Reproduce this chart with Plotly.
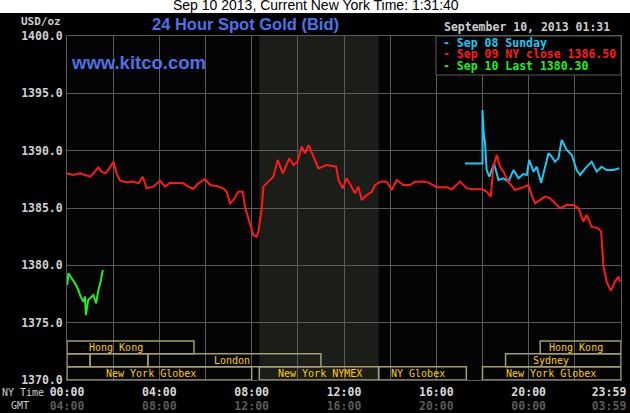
import plotly.graph_objects as go

# ---------------- data (hours after NY midnight, USD/oz) ----------------
sep08_hours = [17.24, 18.00, 18.00, 18.05, 18.11, 18.18, 18.30, 18.40, 18.50, 18.69, 18.91, 19.12,
               19.34, 19.56, 19.77, 19.92, 20.02, 20.21, 20.35, 20.54, 20.71, 20.86, 21.00, 21.14,
               21.29, 21.43, 21.65, 21.87, 22.08, 22.23, 22.45, 22.73, 22.95, 23.16, 23.38, 23.67, 23.93]
sep08_price = [1388.89, 1388.89, 1393.55, 1391.51, 1390.64, 1388.31, 1387.73, 1388.31, 1388.89, 1387.44,
               1387.59, 1387.30, 1388.31, 1387.59, 1387.96, 1387.88, 1389.19, 1388.17, 1388.60, 1387.21,
               1388.60, 1389.77, 1389.48, 1389.04, 1389.33, 1390.93, 1390.06, 1389.62, 1388.31, 1387.88,
               1388.46, 1389.04, 1388.17, 1388.60, 1388.31, 1388.31, 1388.46]

sep09_hours = [0.00, 0.27, 0.56, 0.78, 1.00, 1.14, 1.36, 1.50, 1.65, 1.79, 2.01, 2.15, 2.30, 2.59, 2.87,
               3.09, 3.28, 3.45, 3.74, 4.03, 4.25, 4.46, 4.75, 5.04, 5.26, 5.47, 5.69, 5.98, 6.20, 6.48,
               6.77, 6.92, 7.06, 7.21, 7.42, 7.61, 7.71, 7.93, 8.07, 8.22, 8.29, 8.43, 8.51, 8.72, 8.94,
               9.13, 9.35, 9.63, 9.81, 9.98, 10.17, 10.31, 10.46, 10.65, 10.89, 11.25, 11.66, 11.76,
               11.94, 12.12, 12.34, 12.48, 12.62, 12.77, 12.98, 13.20, 13.35, 13.56, 13.85, 14.07,
               14.28, 14.57, 14.87, 15.08, 15.52, 15.73, 16.02, 16.45, 16.67, 17.03, 17.32, 17.61,
               18.00, 18.18, 18.36, 18.47, 18.62, 18.76, 18.91, 19.12, 19.41, 19.63, 19.84, 19.99,
               20.13, 20.28, 20.49, 20.71, 20.93, 21.14, 21.36, 21.65, 21.94, 22.16, 22.37, 22.51,
               22.73, 23.02, 23.14, 23.24, 23.38, 23.56, 23.74, 23.89, 23.96]
sep09_price = [1388.02, 1387.88, 1388.02, 1387.88, 1387.73, 1388.02, 1388.55, 1388.17, 1388.02, 1388.31,
               1389.04, 1388.02, 1387.38, 1387.24, 1387.30, 1387.15, 1387.73, 1386.71, 1386.86, 1387.38,
               1386.86, 1387.21, 1387.15, 1387.15, 1386.86, 1386.66, 1387.15, 1387.53, 1387.01, 1386.92,
               1386.71, 1386.42, 1385.41, 1385.70, 1386.42, 1386.42, 1385.12, 1383.66, 1382.65, 1382.50,
               1382.94, 1384.83, 1386.86, 1387.30, 1387.73, 1389.19, 1388.02, 1389.33, 1388.75, 1389.04,
               1390.35, 1389.77, 1390.49, 1389.62, 1388.46, 1388.75, 1388.60, 1387.44, 1386.71, 1387.59,
               1386.86, 1386.28, 1386.86, 1385.70, 1386.13, 1386.42, 1387.01, 1387.30, 1387.30, 1386.57,
               1387.44, 1387.01, 1387.01, 1387.30, 1387.30, 1387.15, 1386.80, 1386.80, 1386.63, 1387.30,
               1386.71, 1386.63, 1386.63, 1386.42, 1385.99, 1388.60, 1389.62, 1388.60, 1388.17, 1387.30,
               1386.57, 1386.71, 1386.86, 1387.01, 1386.13, 1385.41, 1385.70, 1385.99, 1385.84, 1385.41,
               1384.97, 1385.26, 1385.26, 1384.97, 1383.81, 1384.39, 1383.37, 1383.23, 1382.94, 1379.88,
               1378.58, 1377.79, 1378.58, 1379.01, 1378.58]

sep10_hours = [0.01, 0.06, 0.20, 0.35, 0.49, 0.59, 0.71, 0.78, 0.82, 0.92, 1.07, 1.14, 1.26, 1.36, 1.46, 1.55]
sep10_price = [1378.28, 1379.30, 1378.87, 1378.43, 1377.85, 1377.27, 1376.83, 1377.27, 1375.67, 1376.98,
               1377.27, 1377.41, 1376.69, 1377.85, 1378.58, 1379.59]

series_names = ["Sep 08 Sunday", "Sep 09 NY close 1386.50", "Sep 10 Last 1380.30"]

# sessions: name, start hour, end hour, row (1 = top), label hour
session_names = ["Hong Kong", "", "", "London", "New York Globex", "New York NYMEX", "NY Globex",
                 "New York Globex", "Sydney", "Hong Kong"]
session_start = [0.0, 0.0, 1.0, 3.5, 0.0, 8.33, 13.5, 18.0, 19.0, 20.5]
session_end = [5.5, 1.0, 3.5, 11.0, 8.0, 13.5, 17.3, 24.0, 24.0, 24.0]
session_row = [1, 2, 2, 2, 3, 3, 3, 3, 2, 1]
session_label_at = [2.13, 0, 0, 7.16, 3.65, 10.94, 15.2, 20.96, 20.96, 22.05]

nymex_open, nymex_close = 8.33, 13.5

tick_hours = [0, 4, 8, 12, 16, 20, 23.48]
tick_ny = ["00:00", "04:00", "08:00", "12:00", "16:00", "20:00", "23:59"]
tick_gmt = ["04:00", "08:00", "12:00", "16:00", "20:00", "00:00", "03:59"]

# ---------------- styling ----------------
MONO = "DejaVu Sans Mono"
NARROW = "Liberation Sans, Arial"
GRID = "#5a5a5a"
W, H = 630, 413
L, R, T, B = 67, 9, 36, 33
PW, PH = W - L - R, H - T - B

def px_x(x):
    return (x - L) / PW

def px_y(y):
    return (H - B - y) / PH

colors = ["#1ec8f5", "#ff1a1a", "#22ee22"]

fig = go.Figure()
fig.add_trace(go.Scatter(x=sep08_hours, y=sep08_price, mode="lines", name=series_names[0],
                         line=dict(color=colors[0], width=2), hoverinfo="skip"))
fig.add_trace(go.Scatter(x=sep09_hours, y=sep09_price, mode="lines", name=series_names[1],
                         line=dict(color=colors[1], width=2), hoverinfo="skip"))
fig.add_trace(go.Scatter(x=sep10_hours, y=sep10_price, mode="lines", name=series_names[2],
                         line=dict(color=colors[2], width=2), hoverinfo="skip", xaxis="x2"))

shapes = []
# white band at top
shapes.append(dict(type="rect", xref="paper", yref="paper", x0=px_x(0), x1=px_x(W), y0=px_y(13), y1=px_y(0),
                   fillcolor="white", line=dict(width=0), layer="below"))
# NYMEX shading
shapes.append(dict(type="rect", xref="x", yref="paper", x0=nymex_open, x1=nymex_close, y0=0, y1=1,
                   fillcolor="#1b1d19", line=dict(width=0), layer="below"))
# session boxes
row_edges = {1: (1372.28, 1373.40), 2: (1371.16, 1372.28), 3: (1370.0, 1371.16)}
annotations = []
for name, s, e, r, lab in zip(session_names, session_start, session_end, session_row, session_label_at):
    y0, y1 = row_edges[r]
    shapes.append(dict(type="rect", xref="x", yref="y", x0=s, x1=e, y0=y0, y1=y1,
                       line=dict(color="#a29e6e", width=1.5), fillcolor="rgba(0,0,0,0)", layer="above"))
    if name:
        annotations.append(dict(x=lab, y=(y0 + y1) / 2, xref="x", yref="y", text=name, showarrow=False,
                                font=dict(family=MONO, size=10, color="#ffcc00"), xanchor="center", yanchor="middle"))
# legend box
shapes.append(dict(type="rect", xref="paper", yref="paper", x0=px_x(436), x1=1, y0=px_y(75), y1=1,
                   fillcolor="#000000", line=dict(color=GRID, width=1), layer="above"))

for i, (nm, c) in enumerate(zip(series_names, colors)):
    annotations.append(dict(x=px_x(441), y=px_y(43 + 11.5 * i), xref="paper", yref="paper",
                            text="- " + nm, showarrow=False, xanchor="left", yanchor="middle",
                            font=dict(family=MONO, size=11.5, color=c, weight="bold")))

annotations += [
    dict(x=px_x(315.5), y=px_y(5), xref="paper", yref="paper", showarrow=False,
         text="Sep 10 2013, Current New York Time: 1:31:40", xanchor="center", yanchor="middle",
         font=dict(family="Liberation Sans, Arial", size=14, color="black")),
    dict(x=px_x(245.5), y=px_y(24), xref="paper", yref="paper", showarrow=False,
         text="24 Hour Spot Gold (Bid)", xanchor="center", yanchor="middle",
         font=dict(family=NARROW, size=16.5, color="#4d72ea", weight="bold")),
    dict(x=px_x(69), y=px_y(62), xref="paper", yref="paper", showarrow=False,
         text="www.kitco.com", xanchor="left", yanchor="middle",
         font=dict(family=NARROW, size=18.5, color="#4d72ea", weight="bold")),
    dict(x=px_x(442), y=px_y(27), xref="paper", yref="paper", showarrow=False,
         text="September 10, 2013 01:31", xanchor="left", yanchor="middle",
         font=dict(family=MONO, size=11.5, color="#cccccc", weight="bold")),
    dict(x=px_x(63), y=px_y(22), xref="paper", yref="paper", showarrow=False,
         text="USD/oz", xanchor="right", yanchor="middle",
         font=dict(family=MONO, size=11, color="#cccccc", weight="bold")),
    dict(x=px_x(46), y=px_y(392), xref="paper", yref="paper", showarrow=False,
         text="NY Time", xanchor="right", yanchor="middle",
         font=dict(family=MONO, size=10, color="#cccccc")),
    dict(x=px_x(31), y=px_y(406), xref="paper", yref="paper", showarrow=False,
         text="GMT", xanchor="right", yanchor="middle",
         font=dict(family=MONO, size=10, color="#cccccc")),
]

ticktext = [f"{a}<br><span style='color:#5a5a5a'>{b}</span>" for a, b in zip(tick_ny, tick_gmt)]

fig.update_layout(
    width=W, height=H,
    margin=dict(l=L, r=R, t=T, b=B, pad=0, autoexpand=False),
    paper_bgcolor="#000000", plot_bgcolor="#040404",
    showlegend=False,
    shapes=shapes, annotations=annotations,
    xaxis=dict(range=[0, 24], tickvals=list(range(0, 25, 2)), showticklabels=False, ticks="",
               showgrid=True, gridcolor=GRID, gridwidth=1, zeroline=False, automargin=False,
               showline=True, linecolor=GRID, mirror=True),
    xaxis2=dict(range=[0, 24], overlaying="x", side="bottom", anchor="y", tickvals=tick_hours,
                ticktext=ticktext, ticks="", showgrid=False, zeroline=False, showline=False, automargin=False,
                ticklabelstandoff=3,
                tickfont=dict(family=MONO, size=11.5, color="#d8d8d8", weight="bold")),
    yaxis=dict(range=[1370, 1400], dtick=5, tick0=1370, tickformat=".1f", ticks="", automargin=False,
               showgrid=True, gridcolor=GRID, gridwidth=1, zeroline=False,
               showline=True, linecolor=GRID, mirror=True, ticklabelstandoff=1,
               tickfont=dict(family=MONO, size=11.5, color="#d0d0d0", weight="bold")),
)

fig.write_html("out.html", config={"displayModeBar": False},
               post_script="document.body.style.margin='0';document.body.style.background='#000';")
